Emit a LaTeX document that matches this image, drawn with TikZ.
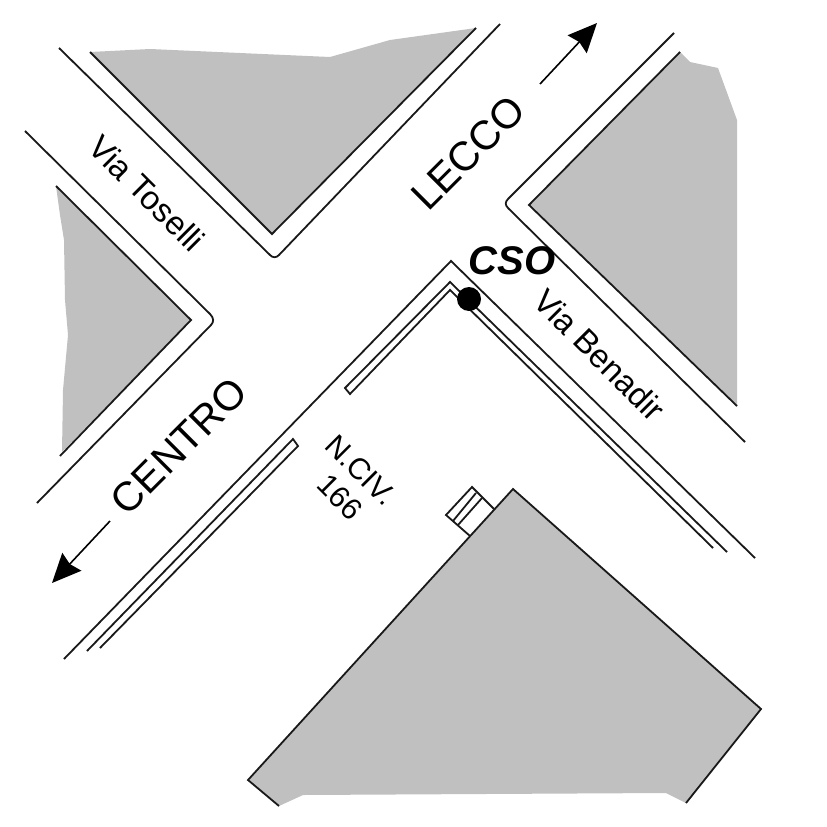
\documentclass[tikz,border=0pt]{standalone}
\usepackage{fontspec}
\setmainfont{Liberation Sans}
\usetikzlibrary{arrows.meta}
\definecolor{blockgrey}{RGB}{192,192,192}
\tikzset{
  x=1pt,y=-1pt,
  edge/.style={draw=black!90,line width=1.8pt,line join=miter},
  block/.style={fill=blockgrey,draw=none},
  dir/.style={draw=black,line width=1.6pt,-{Stealth[length=29pt,width=26pt,inset=3pt]}},
  big/.style={font=\fontsize{41}{41}\selectfont,rotate=45,inner sep=0pt},
  small/.style={font=\fontsize{33}{33}\selectfont,rotate=-45,inner sep=0pt},
  civic/.style={font=\fontsize{30}{30}\selectfont,rotate=-45,inner sep=0pt},
}
\begin{document}
\begin{tikzpicture}
\useasboundingbox (0,0) rectangle (827,827);
% grey blocks
\fill[block] (90,52) -- (150,49) -- (330,57) -- (390,40) -- (476,28) -- (272,234) -- cycle;
\fill[block] (680,52) -- (690,62) -- (718,68) -- (737,120) -- (737,406) -- (529,205) -- cycle;
\fill[block] (56,186) -- (60,215) -- (64,240) -- (65,300) -- (68,335) -- (63,390) -- (62,452) -- (191,320) -- cycle;
\fill[block] (513,489) -- (761,709) -- (686,803) -- (666,793) -- (303,795) -- (279,806) -- (248,780) -- cycle;
% block edges
\draw[edge] (90,52) -- (272,234) -- (476,28);
\draw[edge] (680,52) -- (529,205) -- (737,406);
\draw[edge] (56,186) -- (191,320) -- (60,456);
\draw[edge] (686,803) -- (761,709) -- (513,489) -- (248,780) -- (279,806);
% street kerbs
\draw[edge] (59,48) -- (270,255) .. controls (273,258) and (276,258) .. (279,255) -- (500,24);
\draw[edge] (674,33) -- (508,199) .. controls (505,202) and (505,205) .. (508,208) -- (745,442);
\draw[edge] (25,131) -- (210,314) .. controls (214,318) and (214,322) .. (211,325) -- (37,503);
\draw[edge] (64,659) -- (451,261) -- (755,558);
% pavement double lines
\draw[edge] (727,552) -- (450,282) -- (345,388) -- (350,394) -- (450,290) -- (713,548);
\draw[edge] (87,651) -- (293,439) -- (298,446) -- (100,648);
% steps
\draw[edge] (470,536) -- (446,515) -- (472,487) -- (494,509);
\draw[edge] (476,493) -- (453,521);
\draw[edge] (482,498) -- (458,525);
% arrows
\coordinate (upa) at (540,84); \coordinate (upb) at (597,23);
\coordinate (dna) at (110,521); \coordinate (dnb) at (52,583);
\draw[dir] (upa) -- (upb);
\draw[dir] (dna) -- (dnb);
% CSO point
\node[circle,fill=black,inner sep=0pt,minimum size=24pt] (cso) at (469,299) {};
% labels
\node[big] (lecco) at (468,153) {LECCO};
\node[big] (centro) at (179,446) {CENTRO};
\node[small] (toselli) at (147,193) {Via Toselli};
\node[small] (benadir) at (600,355) {Via Benadir};
\node[civic] (nciv) at (361,470) {N.CIV.};
\node[civic] (num) at (340,497) {166};
\node[inner sep=0pt,font=\fontsize{40}{40}\selectfont\bfseries\itshape] (csolabel) at (512,261) {CSO};
\end{tikzpicture}
\end{document}
